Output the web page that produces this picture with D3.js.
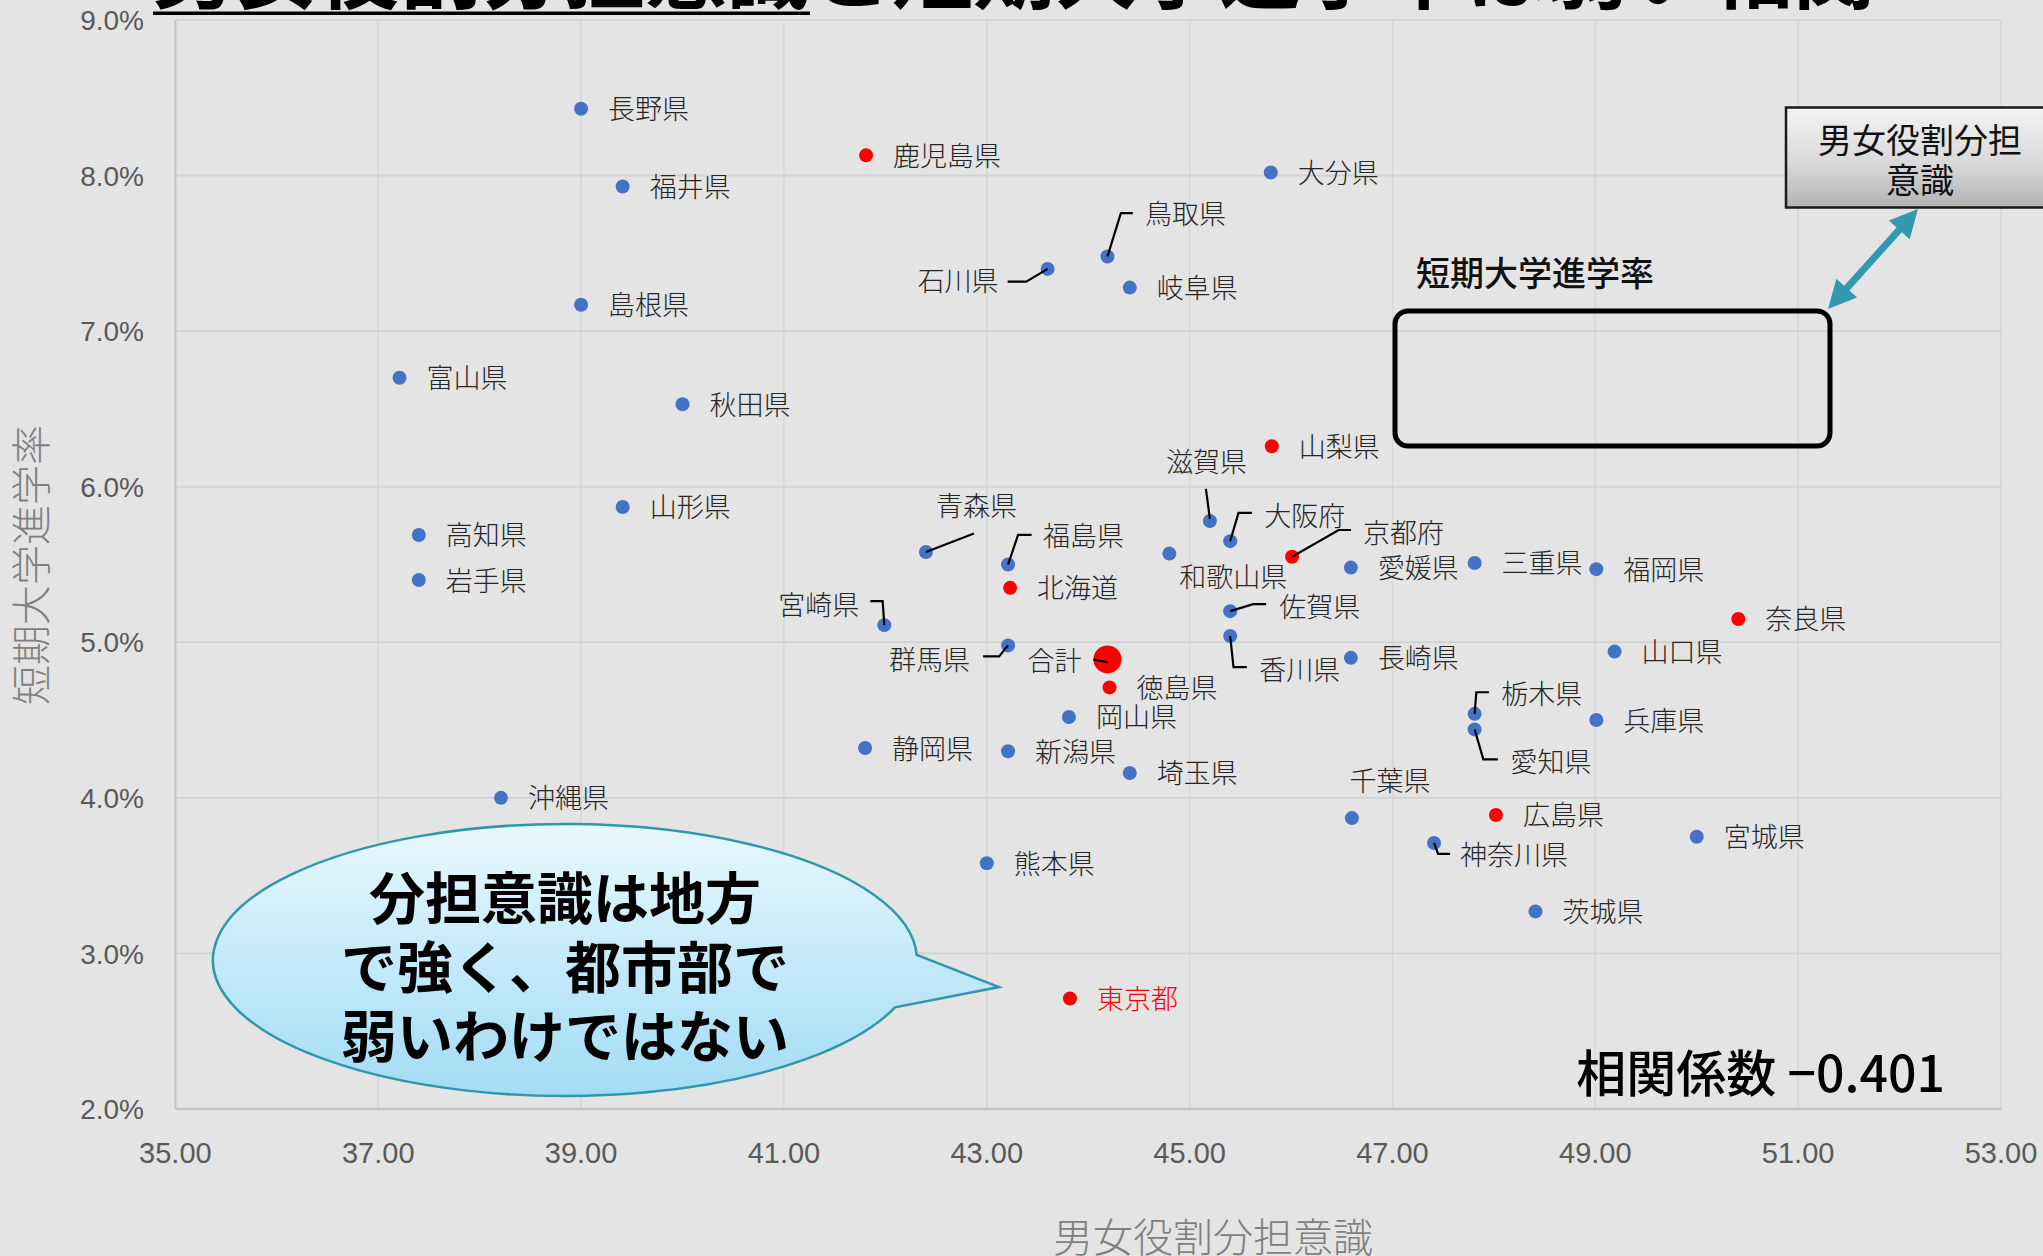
<!DOCTYPE html>
<html>
<head>
<meta charset="utf-8">
<script src="https://cdn.jsdelivr.net/npm/d3@7"></script>
<style>
  html, body { margin: 0; padding: 0; background: #e4e4e4; overflow: hidden; }
  svg { display: block; }
</style>
</head>
<body>
<svg id="chart" width="2043" height="1256"></svg>
<script>
// ---------------- DATA ----------------
const prefectures = ["長野県","鹿児島県","福井県","大分県","鳥取県","石川県","岐阜県","島根県","富山県","秋田県",
  "山梨県","山形県","滋賀県","大阪府","高知県","岩手県","青森県","福島県","和歌山県","京都府",
  "愛媛県","三重県","福岡県","北海道","宮崎県","佐賀県","奈良県","香川県","群馬県","長崎県",
  "山口県","徳島県","栃木県","愛知県","岡山県","兵庫県","静岡県","新潟県","埼玉県","沖縄県",
  "千葉県","広島県","宮城県","神奈川県","熊本県","茨城県","東京都","合計"];
// 男女役割分担意識 (x)
const awareness = [39.00,41.81,39.41,45.80,44.19,43.60,44.41,39.00,37.21,40.00,
  45.81,39.41,45.20,45.40,37.40,37.40,42.40,43.21,44.80,46.01,
  46.59,47.81,49.01,43.23,41.99,45.40,50.41,45.40,43.21,46.59,
  49.19,44.21,47.81,47.81,43.81,49.01,41.80,43.21,44.41,38.21,
  46.60,48.02,50.00,47.41,43.00,48.41,43.82,44.19];
// 短期大学進学率 (y, %)
const juniorCollegeRate = [8.43,8.13,7.93,8.02,7.48,7.40,7.28,7.17,6.70,6.53,
  6.26,5.87,5.78,5.65,5.69,5.40,5.58,5.50,5.57,5.55,
  5.48,5.51,5.47,5.35,5.11,5.20,5.15,5.04,4.98,4.90,
  4.94,4.71,4.54,4.44,4.52,4.50,4.32,4.30,4.16,4.00,
  3.87,3.89,3.75,3.71,3.58,3.27,2.71,4.89];
const highlighted = ["鹿児島県","山梨県","京都府","北海道","奈良県","徳島県","広島県","東京都","合計"];
const totalName = "合計";
const xTicks = [35,37,39,41,43,45,47,49,51,53];
const yTicks = [2,3,4,5,6,7,8,9];
const correlation = -0.401;

const titleUnderlined = "男女役割分担意識";
const titleRest = "と短期大学進学率は弱い相関";
const xTitle = "男女役割分担意識";
const yTitle = "短期大学進学率";
const calloutLines = ["分担意識は地方","で強く、都市部で","弱いわけではない"];
const legendLines = ["男女役割分担","意識"];
const frameLabel = "短期大学進学率";

// ---------------- LAYOUT (label placement) ----------------
const labelLayout = {
  "鳥取県": {dx:37.5, dy:-43.5, leader:[[0,0],[13.4,-43.3],[25.4,-43.3]]},
  "石川県": {anchor:"end", dx:-49, dy:10.5, leader:[[0,0],[-21.4,12.8],[-40,12.8]]},
  "青森県": {dx:10, dy:-48, leader:[[0,0],[48,-18.5]]},
  "宮崎県": {anchor:"end", dx:-25, dy:-22, leader:[[0,0],[-1.7,-24],[-14,-24]]},
  "福島県": {dx:35, dy:-30, leader:[[0,0],[10,-29.7],[23.5,-29.7]]},
  "群馬県": {anchor:"end", dx:-38, dy:13, leader:[[0,0],[-9,11],[-25,11]]},
  "合計":   {anchor:"end", dx:-26, dy:0, leader:[[0,3],[-14,0]]},
  "滋賀県": {dx:-44, dy:-60, leader:[[0,-2],[-4,-32]]},
  "大阪府": {dx:34, dy:-27, leader:[[0,0],[8.3,-28.3],[21.7,-28.3]]},
  "京都府": {dx:71, dy:-25.7, leader:[[0,0],[46.6,-26.7],[59,-26.7]]},
  "和歌山県": {dx:10, dy:22},
  "佐賀県": {dx:49, dy:-6, leader:[[0,0],[23,-7],[36,-7]]},
  "香川県": {dx:29, dy:32.7, leader:[[0,0],[3.3,31],[16.7,31]]},
  "栃木県": {dx:26.7, dy:-21, leader:[[0,0],[1.7,-21.6],[14.3,-21.6]]},
  "愛知県": {dx:36, dy:31, leader:[[0,0],[8.7,30],[23.3,30]]},
  "千葉県": {dx:-2.5, dy:-39},
  "神奈川県": {dx:26, dy:11, leader:[[0,0],[4,11],[16,11]]}
};
const defaultLabel = {anchor:"start", dx:27, dy:-1};

// ---------------- CHART ----------------
const svg = d3.select("#chart");
const W = 2043, H = 1256;
const plot = {left:175.4, right:2001, top:20, bottom:1109};
const x = d3.scaleLinear().domain([35,53]).range([plot.left, plot.right]);
const y = d3.scaleLinear().domain([2,9]).range([plot.bottom, plot.top]);
const CJK = "'Noto Sans CJK JP','Noto Sans CJK SC',sans-serif";
const NUM = "'Liberation Sans','DejaVu Sans',sans-serif";

const defs = svg.append("defs");
const gBubble = defs.append("linearGradient").attr("id","bubbleGrad").attr("x1",0).attr("y1",0).attr("x2",0).attr("y2",1);
gBubble.append("stop").attr("offset","0%").attr("stop-color","#e8f8fd");
gBubble.append("stop").attr("offset","100%").attr("stop-color","#a2dcf5");
const gBox = defs.append("linearGradient").attr("id","boxGrad").attr("x1",0).attr("y1",0).attr("x2",0).attr("y2",1);
gBox.append("stop").attr("offset","0%").attr("stop-color","#f3f3f3");
gBox.append("stop").attr("offset","55%").attr("stop-color","#d9d9d9");
gBox.append("stop").attr("offset","100%").attr("stop-color","#b3b3b3");

svg.append("rect").attr("width",W).attr("height",H).attr("fill","#e4e4e4");

// gridlines
svg.append("g").selectAll("line").data(xTicks.slice(1)).join("line")
  .attr("x1",d=>x(d)).attr("x2",d=>x(d)).attr("y1",plot.top).attr("y2",plot.bottom)
  .attr("stroke","#d7d7d7").attr("stroke-width",1.6);
svg.append("g").selectAll("line").data(yTicks.slice(1)).join("line")
  .attr("x1",plot.left).attr("x2",plot.right).attr("y1",d=>y(d)).attr("y2",d=>y(d))
  .attr("stroke","#d2d2d2").attr("stroke-width",2);
// axes lines
svg.append("line").attr("x1",plot.left).attr("x2",plot.left).attr("y1",plot.top).attr("y2",plot.bottom)
  .attr("stroke","#c3c3c3").attr("stroke-width",2);
svg.append("line").attr("x1",plot.left).attr("x2",plot.right).attr("y1",plot.bottom).attr("y2",plot.bottom)
  .attr("stroke","#c3c3c3").attr("stroke-width",2.5);

// tick labels
svg.append("g").selectAll("text").data(yTicks).join("text")
  .attr("x",144).attr("y",d=>y(d)).attr("dy","0.36em").attr("text-anchor","end")
  .attr("font-family",NUM).attr("font-size",28).attr("fill","#595959")
  .text(d=>d3.format(".1f")(d)+"%");
svg.append("g").selectAll("text").data(xTicks).join("text")
  .attr("x",d=>x(d)).attr("y",1163).attr("text-anchor","middle")
  .attr("font-family",NUM).attr("font-size",29).attr("fill","#595959")
  .text(d=>d3.format(".2f")(d));

// axis titles
svg.append("text").attr("transform","translate(32,565) rotate(-90)")
  .attr("text-anchor","middle").attr("dy","0.35em")
  .attr("font-family",CJK).attr("font-size",40).attr("font-weight",300).attr("fill","#7f7f7f")
  .text(yTitle);
svg.append("text").attr("x",1213).attr("y",1252).attr("text-anchor","middle")
  .attr("font-family",CJK).attr("font-size",40).attr("font-weight",300).attr("fill","#7f7f7f")
  .text(xTitle);

// title (cut at top)
const title = svg.append("text").attr("x",153).attr("y",2)
  .attr("font-family",CJK).attr("font-size",82).attr("font-weight",700).attr("fill","#000");
title.append("tspan").text(titleUnderlined);
title.append("tspan").text(titleRest);
svg.append("rect").attr("x",153).attr("y",11.5).attr("width",657).attr("height",3.5).attr("fill","#000");

// points
const data = prefectures.map((n,i)=>({name:n, x:awareness[i], y:juniorCollegeRate[i],
  red: highlighted.includes(n), total: n===totalName}));

svg.append("g").selectAll("circle").data(data).join("circle")
  .attr("cx",d=>x(d.x)).attr("cy",d=>y(d.y))
  .attr("r",d=>d.total?14:7)
  .attr("fill",d=>d.red?"#ff0000":"#4472c4");

// leader lines
const line = d3.line();
svg.append("g").selectAll("path").data(data.filter(d=>labelLayout[d.name] && labelLayout[d.name].leader)).join("path")
  .attr("d",d=>line(labelLayout[d.name].leader.map(p=>[x(d.x)+p[0], y(d.y)+p[1]])))
  .attr("fill","none").attr("stroke","#000").attr("stroke-width",2.2);

// labels
svg.append("g").selectAll("text").data(data).join("text")
  .each(function(d){
    const L = Object.assign({}, defaultLabel, labelLayout[d.name]||{});
    d3.select(this).attr("x",x(d.x)+L.dx).attr("y",y(d.y)+L.dy).attr("text-anchor",L.anchor||"start");
  })
  .attr("dominant-baseline","central")
  .attr("font-family",CJK).attr("font-size",27).attr("font-weight",300)
  .attr("fill",d=>d.name==="東京都"?"#ff0000":"#262626")
  .text(d=>d.name);

// correlation text
svg.append("text").attr("x",1945).attr("y",1092).attr("text-anchor","end")
  .attr("font-family",CJK).attr("font-size",50).attr("font-weight",500).attr("fill","#000")
  .text("相関係数 " + (correlation<0?"−":"") + Math.abs(correlation).toFixed(3));

// frame + label
svg.append("text").attr("x",1416).attr("y",286)
  .attr("font-family",CJK).attr("font-size",34).attr("font-weight",500).attr("fill","#111")
  .text(frameLabel);
svg.append("rect").attr("x",1395).attr("y",311).attr("width",435).attr("height",135).attr("rx",13)
  .attr("fill","none").attr("stroke","#000").attr("stroke-width",5);

// legend box
svg.append("rect").attr("x",1786).attr("y",107.5).attr("width",290).attr("height",100)
  .attr("fill","url(#boxGrad)").attr("stroke","#1a1a1a").attr("stroke-width",2.5);
svg.append("g").selectAll("text").data(legendLines).join("text")
  .attr("x",1920).attr("y",(d,i)=>153+i*40).attr("text-anchor","middle")
  .attr("font-family",CJK).attr("font-size",34).attr("fill","#111")
  .text(d=>d);

// double arrow
(function(){
  const a=[1918,209], b=[1828,309];
  const dx=b[0]-a[0], dy=b[1]-a[1], len=Math.hypot(dx,dy);
  const ux=dx/len, uy=dy/len, nx=-uy, ny=ux;
  const hl=28, hw=14;
  const col="#3399b0";
  svg.append("line").attr("x1",a[0]+ux*hl*0.8).attr("y1",a[1]+uy*hl*0.8)
    .attr("x2",b[0]-ux*hl*0.8).attr("y2",b[1]-uy*hl*0.8)
    .attr("stroke",col).attr("stroke-width",7);
  const head=(tip,sx,sy)=>{
    const bx=tip[0]+sx*hl, by=tip[1]+sy*hl;
    return [[tip[0],tip[1]],[bx+nx*hw,by+ny*hw],[bx-nx*hw,by-ny*hw]];
  };
  svg.append("polygon").attr("points",head(a,ux,uy).map(p=>p.join(",")).join(" ")).attr("fill",col);
  svg.append("polygon").attr("points",head(b,-ux,-uy).map(p=>p.join(",")).join(" ")).attr("fill",col);
})();

// callout bubble
(function(){
  const cx=565, cy=960, rx=352, ry=136;
  const ang1 = Math.atan2((955-cy)/ry,(914-cx)/rx);
  const ang2 = Math.atan2((1007-cy)/ry,(893-cx)/rx);
  const p1=[cx+rx*Math.cos(ang1), cy+ry*Math.sin(ang1)];
  const p2=[cx+rx*Math.cos(ang2), cy+ry*Math.sin(ang2)];
  const tip=[999,987];
  const path = `M${p2[0]},${p2[1]} A${rx},${ry} 0 1 1 ${p1[0]},${p1[1]} L${tip[0]},${tip[1]} Z`;
  svg.append("path").attr("d",path).attr("fill","url(#bubbleGrad)")
    .attr("stroke","#2f97ad").attr("stroke-width",2.5);
  svg.append("g").selectAll("text").data(calloutLines).join("text")
    .attr("x",cx).attr("y",(d,i)=>894+i*69).attr("dominant-baseline","central")
    .attr("text-anchor","middle")
    .attr("font-family",CJK).attr("font-size",56).attr("font-weight",700).attr("fill","#000")
    .text(d=>d);
})();
</script>
</body>
</html>
